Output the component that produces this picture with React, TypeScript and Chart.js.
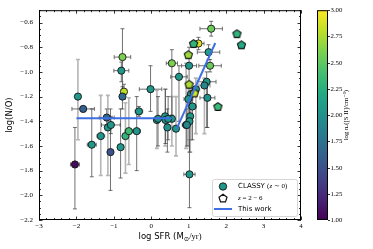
import React, { useEffect, useRef } from "react";
import { Chart, registerables } from "chart.js";
Chart.register(...registerables);

// ---------------- data ----------------
const xRange = [-3, 4];
const yRange = [-2.2, -0.5];
const xTicks = [-3, -2, -1, 0, 1, 2, 3, 4];
const yTicks = [-2.2, -2.0, -1.8, -1.6, -1.4, -1.2, -1.0, -0.8, -0.6];
const cbRange = [1, 3];
const cbTicks = [1.0, 1.25, 1.5, 1.75, 2.0, 2.25, 2.5, 2.75, 3.0];

// CLASSY (z ~ 0)
const classyX = [-2.04, -1.96, -1.82, -1.59, -1.35, -1.19, -1.16, -1.08, -1.09, -0.82, -0.77, -0.8, -0.73, -0.77, -0.69, -0.6, -0.39, -0.33, -0.02, 0.15, 0.37, 0.38, 0.55, 0.43, 0.66, 0.93, 0.55, 0.74, 1.02, 1.6, 1.26, 1.53, 1.01, 1.57, 1.48, 1.42, 1.19, 1.06, 1.5, 0.99, 1.04, 1.02, 0.95, 0.18, 0.45, 1.1];
const classyY = [-1.75, -1.2, -1.3, -1.59, -1.52, -1.37, -1.45, -1.43, -1.65, -1.61, -0.88, -0.99, -1.16, -1.2, -1.52, -1.48, -1.48, -1.32, -1.14, -1.39, -1.36, -1.39, -1.38, -1.45, -1.46, -1.43, -0.93, -1.04, -1.83, -0.65, -0.77, -0.84, -0.95, -0.95, -1.08, -1.11, -1.14, -1.18, -1.21, -1.22, -1.36, -1.4, -1.43, -1.38, -1.38, -1.28];
const classyNe = [1.05, 2.05, 1.6, 2.05, 2.05, 1.65, 2.05, 2.05, 1.5, 2.05, 2.6, 2.05, 2.8, 1.7, 2.3, 2.35, 2.05, 2.05, 2.05, 2.05, 2.05, 2.0, 2.05, 2.0, 2.05, 1.9, 2.6, 2.05, 2.05, 2.55, 2.9, 2.1, 2.05, 2.55, 2.05, 1.9, 2.05, 2.0, 2.0, 2.05, 2.05, 2.05, 1.9, 2.0, 2.05, 2.05];
const classyYLo = [-2.11, -1.55, -1.3, -1.85, -1.84, -1.45, -1.84, -1.5, -1.96, -1.86, -1.15, -1.08, -1.22, -1.3, -1.82, -1.75, -1.8, -1.36, -1.32, -1.62, -1.6, -1.58, -1.6, -1.65, -1.68, -1.62, -1.35, -1.4, -2.1, -0.71, -0.82, -0.9, -1.4, -1.0, -1.45, -1.5, -1.5, -1.55, -1.45, -1.6, -1.65, -1.65, -1.6, -1.6, -1.55, -1.55];
const classyYHi = [-1.45, -0.9, -1.3, -1.3, -1.19, -1.3, -1.19, -1.36, -1.3, -1.3, -0.65, -0.92, -1.1, -1.12, -1.25, -1.21, -1.2, -1.28, -0.95, -1.15, -1.14, -1.14, -1.2, -1.3, -1.2, -0.93, -0.82, -0.95, -1.55, -0.59, -0.72, -0.78, -0.8, -0.9, -1.0, -1.05, -1.05, -1.1, -1.1, -1.1, -1.25, -1.25, -1.3, -1.2, -1.2, -1.15];
const classyXErr = [0.12, 0, 0.3, 0.12, 0.1, 0.2, 0, 0.25, 0, 0.08, 0.22, 0.2, 0, 0, 0, 0.1, 0.1, 0.1, 0.3, 0, 0, 0.08, 0, 0, 0, 0.1, 0.15, 0.22, 0.15, 0.3, 0.15, 0.3, 0.2, 0.3, 0.25, 0.15, 0.1, 0.1, 0.2, 0.12, 0, 0, 0, 0.1, 0.1, 0.1];
const classyLight = [0, 1, 0, 0, 1, 0, 1, 0, 0, 0, 0, 0, 0, 0, 1, 1, 0, 0, 0, 1, 1, 0, 1, 0, 1, 1, 0, 0, 0, 0, 0, 0, 0, 0, 0, 1, 1, 1, 0, 1, 1, 0, 0, 0, 0, 0];

// z = 2 - 6
const hzX = [1.13, 0.99, 1.01, 1.15, 1.78, 2.29, 2.41];
const hzY = [-0.77, -0.86, -1.1, -1.17, -1.28, -0.69, -0.78];
const hzNe = [2.3, 2.7, 2.75, 2.85, 2.35, 2.3, 2.2];

// This work (fit)
const fitFlatX = [-2.0, 0.55];
const fitFlatY = [-1.375, -1.375];
const fitSteepX = [0.68, 1.71];
const fitSteepY = [-1.46, -0.766];

const legendLabels = ["CLASSY", "z = 2 − 6", "This work"];
const xTitle = "log SFR (M";
const yTitle = "log(N/O)";
const cbTitle = "log nₑ([S II]/cm⁻³)";

// ---------------- helpers ----------------
const VIRIDIS = ["#440154", "#482475", "#414487", "#355f8d", "#2a788e", "#21918c", "#22a884", "#44bf70", "#7ad151", "#bddf26", "#fde725"];
function hexRgb(h: string) {
  return [parseInt(h.slice(1, 3), 16), parseInt(h.slice(3, 5), 16), parseInt(h.slice(5, 7), 16)];
}
function viridis(v: number) {
  let t = (v - cbRange[0]) / (cbRange[1] - cbRange[0]);
  t = Math.max(0, Math.min(1, t));
  const f = t * 10;
  const i = Math.min(9, Math.floor(f));
  const r = f - i;
  const a = hexRgb(VIRIDIS[i]);
  const b = hexRgb(VIRIDIS[i + 1]);
  const c = a.map((u, k) => Math.round(u + (b[k] - u) * r));
  return `rgb(${c[0]},${c[1]},${c[2]})`;
}
const pentCache: Record<string, HTMLCanvasElement> = {};
function pentPath(ctx: CanvasRenderingContext2D, cx: number, cy: number, r: number) {
  ctx.beginPath();
  for (let k = 0; k < 5; k++) {
    const a = -Math.PI / 2 + (k * 2 * Math.PI) / 5;
    const px = cx + r * Math.cos(a);
    const py = cy + r * Math.sin(a);
    if (k === 0) ctx.moveTo(px, py);
    else ctx.lineTo(px, py);
  }
  ctx.closePath();
}
function pentImg(color: string) {
  if (pentCache[color]) return pentCache[color];
  const c = document.createElement("canvas");
  c.width = 11;
  c.height = 11;
  const g = c.getContext("2d")!;
  pentPath(g, 5.5, 5.9, 4.3);
  g.fillStyle = color;
  g.fill();
  g.lineWidth = 1.1;
  g.strokeStyle = "#111";
  g.stroke();
  pentCache[color] = c;
  return c;
}
const minus = (s: string) => s.replace("-", "−");
const SERIF = "'Liberation Serif', 'DejaVu Serif', serif";
const SANS = "'DejaVu Sans', sans-serif";

function drawSegments(ctx: CanvasRenderingContext2D, segs: { t: string; f: string }[], x: number, y: number) {
  let cx = x;
  ctx.textAlign = "left";
  for (const s of segs) {
    ctx.font = s.f;
    ctx.fillText(s.t, cx, y);
    cx += ctx.measureText(s.t).width;
  }
}

const decor = {
  id: "decor",
  beforeDatasetsDraw(chart: any) {
    const { ctx, scales } = chart;
    const xs = scales.x;
    const ys = scales.y;
    ctx.save();
    for (let i = 0; i < classyX.length; i++) {
      const light = classyLight[i] === 1;
      ctx.strokeStyle = light ? "rgba(150,150,150,0.7)" : "rgba(70,70,70,0.85)";
      ctx.lineWidth = light ? 1.6 : 0.9;
      const px = xs.getPixelForValue(classyX[i]);
      const py = ys.getPixelForValue(classyY[i]);
      const yl = ys.getPixelForValue(classyYLo[i]);
      const yh = ys.getPixelForValue(classyYHi[i]);
      ctx.beginPath();
      if (Math.abs(yl - yh) > 1) {
        ctx.moveTo(px, yl);
        ctx.lineTo(px, yh);
        ctx.moveTo(px - 2, yl);
        ctx.lineTo(px + 2, yl);
        ctx.moveTo(px - 2, yh);
        ctx.lineTo(px + 2, yh);
      }
      if (classyXErr[i] > 0) {
        const xl = xs.getPixelForValue(classyX[i] - classyXErr[i]);
        const xh = xs.getPixelForValue(classyX[i] + classyXErr[i]);
        ctx.moveTo(xl, py);
        ctx.lineTo(xh, py);
        ctx.moveTo(xl, py - 2);
        ctx.lineTo(xl, py + 2);
        ctx.moveTo(xh, py - 2);
        ctx.lineTo(xh, py + 2);
      }
      ctx.stroke();
    }
    ctx.restore();
  },
  afterDraw(chart: any) {
    const { ctx, chartArea, scales } = chart;
    const { left, right, top, bottom } = chartArea;
    const xs = scales.x;
    const ys = scales.y;
    const cb = scales.cb;
    ctx.save();
    // frame
    ctx.strokeStyle = "#000";
    ctx.lineWidth = 1;
    ctx.strokeRect(left + 0.5, top + 0.5, right - left - 1, bottom - top - 1);
    // ticks
    ctx.lineWidth = 0.8;
    ctx.beginPath();
    for (let k = 0; k <= Math.round((xRange[1] - xRange[0]) / 0.2); k++) {
      const v = xRange[0] + k * 0.2;
      const major = k % 5 === 0;
      const len = major ? 3.5 : 2;
      const px = Math.round(xs.getPixelForValue(v)) + 0.5;
      ctx.moveTo(px, bottom);
      ctx.lineTo(px, bottom - len);
      ctx.moveTo(px, top);
      ctx.lineTo(px, top + len);
    }
    for (let k = 0; k <= Math.round((yRange[1] - yRange[0]) / 0.05); k++) {
      const v = yRange[0] + k * 0.05;
      const major = k % 4 === 0;
      const len = major ? 3.5 : 2;
      const py = Math.round(ys.getPixelForValue(v)) + 0.5;
      ctx.moveTo(left, py);
      ctx.lineTo(left + len, py);
      ctx.moveTo(right, py);
      ctx.lineTo(right - len, py);
    }
    ctx.stroke();

    // axis titles
    ctx.fillStyle = "#000";
    ctx.textBaseline = "middle";
    ctx.save();
    ctx.translate(10, (top + bottom) / 2);
    ctx.rotate(-Math.PI / 2);
    ctx.font = `8.5px ${SANS}`;
    ctx.textAlign = "center";
    ctx.fillText(yTitle, 0, 0);
    ctx.restore();
    {
      const f1 = `8.5px ${SANS}`;
      const f2 = `6.5px ${SERIF}`;
      const f3 = `8.5px ${SERIF}`;
      ctx.font = f1;
      const w1 = ctx.measureText(xTitle).width;
      ctx.font = f2;
      const w2 = ctx.measureText("⊙").width;
      ctx.font = f3;
      const w3 = ctx.measureText("/yr)").width;
      let cx = (left + right) / 2 - (w1 + w2 + w3) / 2;
      const cy = 237;
      ctx.textAlign = "left";
      ctx.font = f1;
      ctx.fillText(xTitle, cx, cy);
      cx += w1;
      ctx.font = f2;
      ctx.fillText("⊙", cx, cy + 2);
      cx += w2;
      ctx.font = f3;
      ctx.fillText("/yr)", cx, cy);
    }

    // colorbar
    const cbL = right + 16;
    const cbR = right + 27;
    const cbT = cb.getPixelForValue(cbRange[1]);
    const cbB = cb.getPixelForValue(cbRange[0]);
    const grad = ctx.createLinearGradient(0, cbB, 0, cbT);
    VIRIDIS.forEach((c, i) => grad.addColorStop(i / 10, c));
    ctx.fillStyle = grad;
    ctx.fillRect(cbL, cbT, cbR - cbL, cbB - cbT);
    ctx.strokeStyle = "#000";
    ctx.lineWidth = 1;
    ctx.strokeRect(cbL + 0.5, cbT + 0.5, cbR - cbL - 1, cbB - cbT - 1);
    ctx.lineWidth = 0.8;
    ctx.fillStyle = "#000";
    ctx.font = `6.8px ${SERIF}`;
    ctx.textAlign = "left";
    ctx.textBaseline = "middle";
    ctx.beginPath();
    for (const v of cbTicks) {
      const py = Math.round(cb.getPixelForValue(v)) + 0.5;
      ctx.moveTo(cbR, py);
      ctx.lineTo(cbR + 2, py);
      ctx.fillText(v.toFixed(2), cbR + 2.5, py);
    }
    ctx.stroke();
    ctx.save();
    ctx.translate(right + 45.5, (cbT + cbB) / 2);
    ctx.rotate(-Math.PI / 2);
    ctx.font = `6.8px ${SERIF}`;
    ctx.textAlign = "center";
    ctx.fillText(cbTitle, 0, 0);
    ctx.restore();

    // legend
    const lx = right - 89;
    const ly = bottom - 41;
    const lw = 85;
    const lh = 37;
    ctx.beginPath();
    (ctx as any).roundRect(lx + 0.5, ly + 0.5, lw, lh, 2);
    ctx.fillStyle = "rgba(255,255,255,0.85)";
    ctx.fill();
    ctx.strokeStyle = "#cccccc";
    ctx.lineWidth = 0.8;
    ctx.stroke();
    ctx.beginPath();
    ctx.arc(lx + 11, ly + 7.5, 3.7, 0, Math.PI * 2);
    ctx.fillStyle = viridis(2.05);
    ctx.fill();
    ctx.strokeStyle = "#111";
    ctx.lineWidth = 0.9;
    ctx.stroke();
    pentPath(ctx, lx + 11, ly + 19.5, 4.2);
    ctx.fillStyle = "#fff";
    ctx.fill();
    ctx.lineWidth = 1.2;
    ctx.stroke();
    ctx.beginPath();
    ctx.moveTo(lx + 2, ly + 30);
    ctx.lineTo(lx + 20, ly + 30);
    ctx.strokeStyle = "#3f6fe4";
    ctx.lineWidth = 2;
    ctx.stroke();
    ctx.fillStyle = "#000";
    ctx.textBaseline = "middle";
    const fs = `7px ${SANS}`;
    const fr = `7px ${SERIF}`;
    const fi = `italic 7px ${SERIF}`;
    drawSegments(ctx, [
      { t: legendLabels[0] + " ", f: fs },
      { t: "(", f: fr },
      { t: "z", f: fi },
      { t: " ∼ 0)", f: fr },
    ], lx + 26, ly + 7.5);
    drawSegments(ctx, [
      { t: "z", f: fi },
      { t: legendLabels[1].slice(1), f: fr },
    ], lx + 26, ly + 19.5);
    drawSegments(ctx, [{ t: legendLabels[2], f: fs }], lx + 26, ly + 30);

    ctx.restore();
  },
};

export default function App() {
  const ref = useRef<HTMLCanvasElement | null>(null);
  useEffect(() => {
    document.body.style.margin = "0";
    const canvas = ref.current!;
    const chart = new Chart(canvas, {
      type: "scatter",
      data: {
        datasets: [
          {
            type: "line",
            data: fitFlatX.map((x, i) => ({ x, y: fitFlatY[i] })),
            borderColor: "#3f6fe4",
            borderWidth: 2,
            pointRadius: 0,
            fill: false,
            order: 0,
          } as any,
          {
            type: "line",
            data: fitSteepX.map((x, i) => ({ x, y: fitSteepY[i] })),
            borderColor: "#3f6fe4",
            borderWidth: 2,
            pointRadius: 0,
            fill: false,
            order: 0,
          } as any,
          {
            data: hzX.map((x, i) => ({ x, y: hzY[i] })),
            pointStyle: (c: any) => pentImg(viridis(hzNe[c.dataIndex ?? 0])),
            pointRadius: 5,
            order: 1,
          } as any,
          {
            data: classyX.map((x, i) => ({ x, y: classyY[i] })),
            pointRadius: 3.6,
            pointBorderWidth: 0.9,
            borderColor: "#151515",
            backgroundColor: (c: any) => viridis(classyNe[c.dataIndex ?? 0]),
            order: 2,
          } as any,
        ],
      },
      options: {
        animation: false,
        responsive: false,
        devicePixelRatio: 1,
        layout: { padding: { left: 0, right: 72, top: 9, bottom: 0 } },
        plugins: { legend: { display: false }, tooltip: { enabled: false } },
        scales: {
          x: {
            type: "linear",
            min: xRange[0],
            max: xRange[1],
            grid: { display: false, drawTicks: false },
            border: { display: false },
            afterBuildTicks: (s: any) => {
              s.ticks = xTicks.map((v) => ({ value: v }));
            },
            afterFit: (s: any) => {
              s.height = 29;
            },
            ticks: {
              padding: 2,
              color: "#000",
              font: { family: SERIF, size: 7 },
              callback: (v: any) => minus(String(v)),
              maxRotation: 0,
            },
          },
          y: {
            type: "linear",
            min: yRange[0],
            max: yRange[1],
            grid: { display: false, drawTicks: false },
            border: { display: false },
            afterBuildTicks: (s: any) => {
              s.ticks = yTicks.map((v) => ({ value: v }));
            },
            afterFit: (s: any) => {
              s.width = 39;
            },
            ticks: {
              padding: 6,
              color: "#000",
              font: { family: SERIF, size: 7 },
              callback: (v: any) => minus(Number(v).toFixed(1)),
            },
          },
          cb: {
            type: "linear",
            axis: "y",
            position: "right",
            display: false,
            min: cbRange[0],
            max: cbRange[1],
          },
        },
      },
      plugins: [decor],
    } as any);
    return () => chart.destroy();
  }, []);
  return (
    <div style={{ width: 373, height: 249 }}>
      <canvas ref={ref} width={373} height={249} style={{ display: "block" }} />
    </div>
  );
}
